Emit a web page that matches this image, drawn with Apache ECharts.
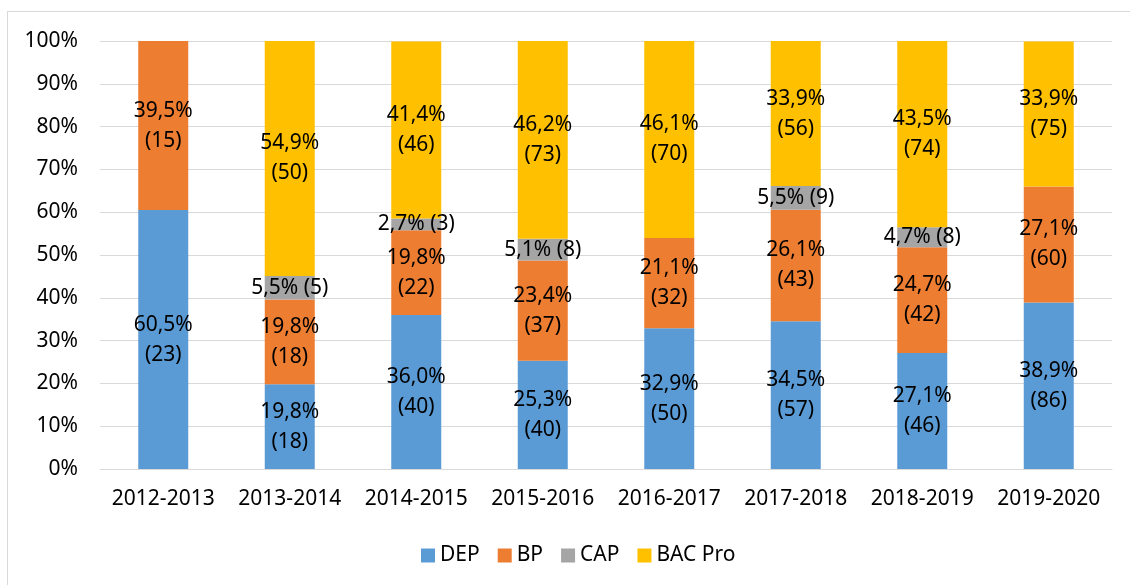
<!DOCTYPE html>
<html>
<head>
<meta charset="utf-8">
<script src="https://cdn.jsdelivr.net/npm/echarts@6/dist/echarts.min.js"></script>
<style>
html, body { margin: 0; padding: 0; background: #fff; }
#frame {
  position: absolute;
  left: 7px;
  top: 11px;
  width: 1200px;
  height: 700px;
  border: 1px solid #d9d9d9;
}
#chart { position: absolute; left: 0; top: 0; width: 1130px; height: 585px; }
</style>
</head>
<body>
<div id="frame"></div>
<div id="chart"></div>
<script>
// années scolaires
const categories = ['2012-2013', '2013-2014', '2014-2015', '2015-2016', '2016-2017', '2017-2018', '2018-2019', '2019-2020']

// pourcentages (%) par formation
const depPct = [60.5, 19.8, 36.0, 25.3, 32.9, 34.5, 27.1, 38.9]
const bpPct = [39.5, 19.8, 19.8, 23.4, 21.1, 26.1, 24.7, 27.1]
const capPct = [0, 5.5, 2.7, 5.1, 0, 5.5, 4.7, 0]
const bacPct = [0, 54.9, 41.4, 46.2, 46.1, 33.9, 43.5, 33.9]

// effectifs
const depCount = [23, 18, 40, 40, 50, 57, 46, 86]
const bpCount = [15, 18, 22, 37, 32, 43, 42, 60]
const capCount = [0, 5, 3, 8, 0, 9, 8, 0]
const bacCount = [0, 50, 46, 73, 70, 56, 74, 75]

const yTicks = [0, 10, 20, 30, 40, 50, 60, 70, 80, 90, 100]

const FONT = 'Noto Sans'
const FS = 21
const colors = ['#5B9BD5', '#ED7D31', '#A5A5A5', '#FFC000']

const fmt = (v) => v.toFixed(1).replace('.', ',') + '%'

function makeSeries(name, pct, counts, oneLine) {
  return {
    name,
    type: 'bar',
    stack: 'total',
    barWidth: 50,
    data: pct,
    label: {
      show: true,
      position: 'inside',
      color: '#000',
      fontFamily: FONT,
      fontSize: FS,
      lineHeight: 30,
      // les valeurs nulles ne sont pas étiquetées
      formatter: (p) => {
        if (!p.value) return ''
        const n = counts[p.dataIndex]
        return oneLine ? fmt(p.value) + ' (' + n + ')' : fmt(p.value) + '\n(' + n + ')'
      },
    },
  }
}

const myChart = echarts.init(document.getElementById('chart'))

const option = {
  color: colors,
  animation: false,
  legend: {
    data: ['DEP', 'BP', 'CAP', 'BAC Pro'],
    bottom: 14,
    left: 416,
    icon: 'rect',
    itemWidth: 14,
    itemHeight: 14,
    itemGap: 18,
    textStyle: {
      color: '#000',
      fontFamily: FONT,
      fontSize: FS,
    },
  },
  grid: {
    left: 100,
    right: 18,
    top: 41,
    bottom: 116,
  },
  xAxis: {
    type: 'category',
    data: categories,
    axisLine: { show: true, lineStyle: { color: '#d9d9d9' } },
    axisTick: { show: false },
    axisLabel: {
      interval: 0,
      color: '#000',
      fontFamily: FONT,
      fontSize: FS,
      margin: 20,
    },
  },
  yAxis: {
    type: 'value',
    min: yTicks[0],
    max: yTicks[yTicks.length - 1],
    interval: 10,
    axisLine: { show: false },
    axisTick: { show: false },
    splitLine: { lineStyle: { color: '#d9d9d9', width: 1 } },
    axisLabel: {
      color: '#000',
      fontFamily: FONT,
      fontSize: FS,
      margin: 22,
      formatter: '{value}%',
    },
  },
  series: [
    makeSeries('DEP', depPct, depCount, false),
    makeSeries('BP', bpPct, bpCount, false),
    makeSeries('CAP', capPct, capCount, true),
    makeSeries('BAC Pro', bacPct, bacCount, false),
  ],
}

myChart.setOption(option)
</script>
</body>
</html>
